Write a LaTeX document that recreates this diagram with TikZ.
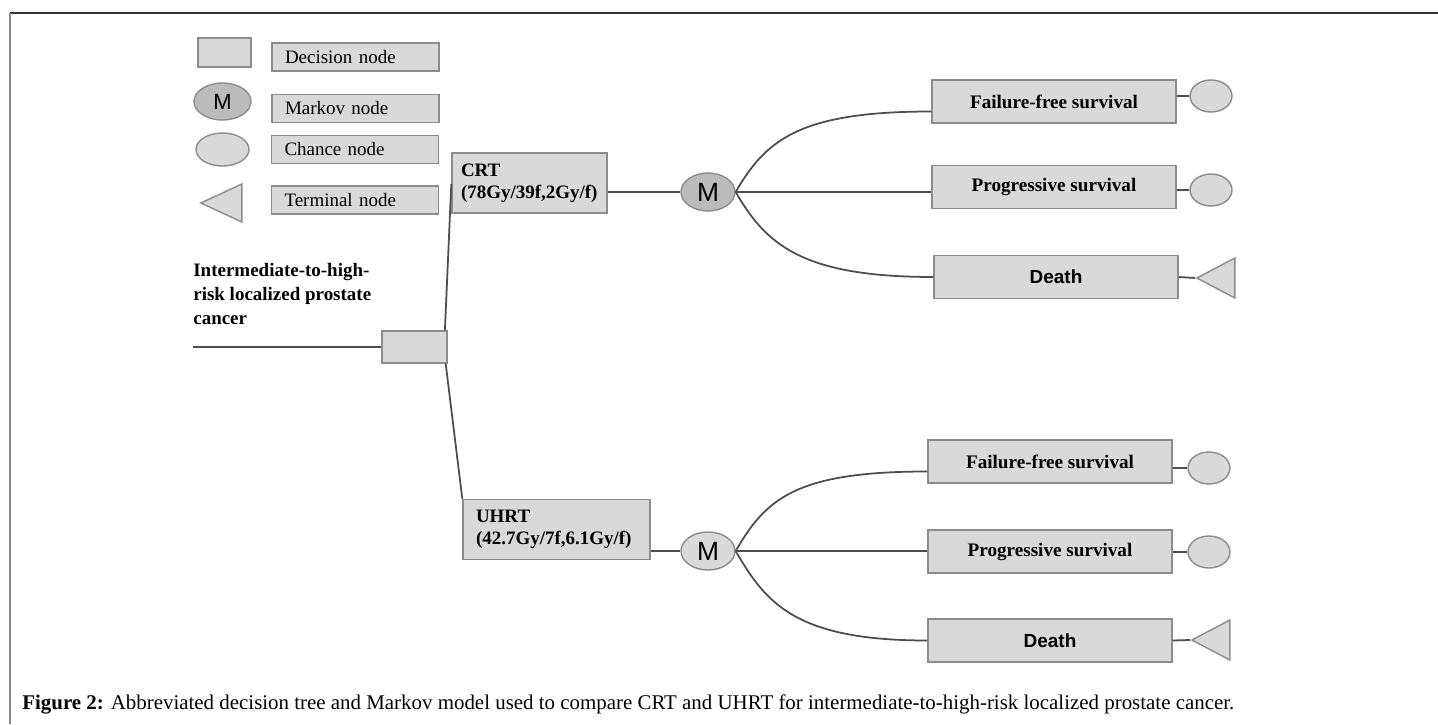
\documentclass[tikz,border=0pt]{standalone}
\usepackage{fontspec}
\setmainfont{Liberation Serif}
\newfontfamily\arialfont{Liberation Sans}
\usepackage{tikz}
\usetikzlibrary{shapes.geometric, calc}
\definecolor{boxgray}{HTML}{D9D9D9}
\definecolor{markovgray}{HTML}{BBBBBB}
\definecolor{edgegray}{HTML}{8C8C8C}
\definecolor{linegray}{HTML}{4D4D4D}

\begin{document}
\begin{tikzpicture}[scale=0.2]
\tikzstyle{every node}+=[inner sep=0pt]
\tikzstyle{box}=[rectangle, draw=edgegray, fill=boxgray, line width=0.8pt]
\tikzstyle{keylabel}=[box, minimum width=3.34cm, minimum height=0.56cm, text width=2.82cm, align=left, font=\fontsize{10.8}{13}\selectfont]
\tikzstyle{arm}=[box, minimum height=1.2cm, align=left, font=\bfseries\fontsize{10.8}{12.6}\selectfont]
\tikzstyle{outcome}=[box, minimum width=4.88cm, minimum height=0.86cm, font=\bfseries\fontsize{10.9}{13}\selectfont]
\tikzstyle{markov}=[ellipse, draw=edgegray, line width=0.8pt, minimum width=1.08cm, minimum height=0.76cm, font=\arialfont\fontsize{15}{15}\selectfont]
\tikzstyle{chance}=[ellipse, draw=edgegray, fill=boxgray, line width=0.8pt, minimum width=0.84cm, minimum height=0.64cm]
\tikzstyle{term}=[isosceles triangle, shape border rotate=180, isosceles triangle stretches, draw=edgegray, fill=boxgray, line width=0.8pt, minimum width=0.8cm, minimum height=0.76cm]
\tikzstyle{link}=[draw=linegray, line width=1pt]
\useasboundingbox (0,0) rectangle (143.8,-72.4);
\draw [black!80, line width=0.9pt] (1,-1.3) -- (143.8,-1.3);
\draw [edgegray, line width=0.9pt] (1,-1.3) -- (1,-72.4);

\node [box, minimum width=1.06cm, minimum height=0.58cm] (keyd) at (22.45,-5.25) {};
\node [keylabel] (keydl) at (35.55,-5.7) {Decision node};
\node [markov, fill=markovgray, minimum width=1.14cm, minimum height=0.74cm, font=\arialfont\fontsize{12.5}{12.5}\selectfont] (keym) at (22.25,-10.15) {M};
\node [keylabel] (keyml) at (35.55,-10.85) {Markov node};
\node [chance, minimum width=1.06cm, minimum height=0.66cm] (keyc) at (22.25,-14.95) {};
\node [keylabel] (keycl) at (35.5,-14.95) {Chance node};
\node [term, minimum width=0.76cm, minimum height=0.82cm, anchor=apex] (keyt) at (19.9,-20.3) {};
\node [keylabel] (keytl) at (35.5,-20) {Terminal node};

\node [anchor=west, align=left, font=\bfseries\fontsize{10.8}{13.6}\selectfont] (pop) at (19.3,-29.4) {Intermediate-to-high-\\risk localized prostate\\cancer};
\coordinate (start) at (19.3,-34.7);
\node [box, minimum width=1.3cm, minimum height=0.64cm] (dec) at (41.45,-34.7) {};
\node [arm, text width=2.74cm, minimum width=3.1cm] (crt) at (52.95,-18.3) {CRT\\(78Gy/39f,2Gy/f)};
\node [arm, text width=3.22cm, minimum width=3.74cm] (uhrt) at (55.65,-52.95) {UHRT\\(42.7Gy/7f,6.1Gy/f)};
\node [markov, fill=markovgray] (m1) at (70.8,-19.2) {M};
\node [markov, fill=boxgray] (m2) at (70.8,-55.1) {M};

\node [outcome] (ffs1) at (105.4,-10.15) {Failure-free survival};
\node [outcome] (prs1) at (105.4,-18.7) {Progressive survival};
\node [outcome, font=\arialfont\bfseries\fontsize{10.8}{13}\selectfont] (dth1) at (105.6,-27.7) {Death};
\node [outcome] (ffs2) at (105,-46.15) {Failure-free survival};
\node [outcome] (prs2) at (105,-55.15) {Progressive survival};
\node [outcome, font=\arialfont\bfseries\fontsize{10.8}{13}\selectfont] (dth2) at (105,-64.05) {Death};

\node [chance] (c1) at (121.1,-9.6) {};
\node [chance] (c2) at (121.1,-19) {};
\node [chance] (c3) at (120.9,-46.8) {};
\node [chance] (c4) at (120.9,-55.2) {};
\node [term, anchor=apex] (t1) at (119.5,-27.8) {};
\node [term, anchor=apex] (t2) at (119,-64) {};

\draw [link] (start) -- (dec.west);
\draw [link] ([xshift=-0.28cm]dec.north east) -- ([yshift=-0.1cm]crt.west);
\draw [link] ([xshift=-0.2cm]dec.south east) -- (uhrt.north west);
\draw [link] (m1.west -| crt.east) -- (m1.west);
\draw [link] (m2.west -| uhrt.east) -- (m2.west);
\draw [link] (m1.east) .. controls +(3,5.2) and +(-13.2,0) .. ($(ffs1.west)+(0,-1)$);
\draw [link] (m1.east) -- (m1.east -| prs1.west);
\draw [link] (m1.east) .. controls +(3,-5.2) and +(-13.2,0) .. (dth1.west);
\draw [link] (m2.east) .. controls +(3,5.2) and +(-13.2,0) .. ($(ffs2.west)+(0,-1)$);
\draw [link] (m2.east) -- (m2.east -| prs2.west);
\draw [link] (m2.east) .. controls +(3,-5.2) and +(-13.2,0) .. (dth2.west);
\draw [link] (c1.west -| ffs1.east) -- (c1.west);
\draw [link] (c2.west -| prs1.east) -- (c2.west);
\draw [link] (c3.west -| ffs2.east) -- (c3.west);
\draw [link] (c4.west -| prs2.east) -- (c4.west);
\draw [link] (dth1.east) -- (t1.apex);
\draw [link] (dth2.east) -- (t2.apex);

\node [anchor=west, font=\fontsize{11.9}{13}\selectfont] (cap) at (2.2,-70.4) {\textbf{Figure 2:} Abbreviated decision tree and Markov model used to compare CRT and UHRT for intermediate-to-high-risk localized prostate cancer.};
\end{tikzpicture}
\end{document}
